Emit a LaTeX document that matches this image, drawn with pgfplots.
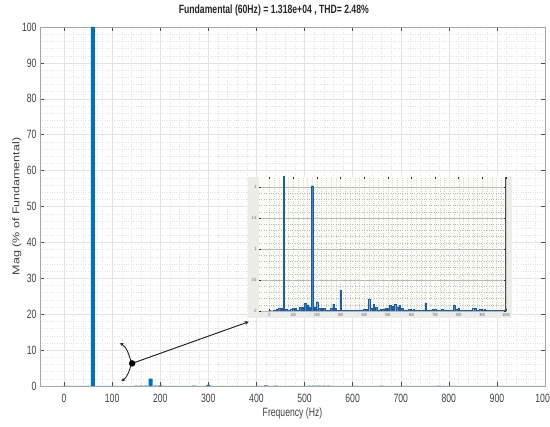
\documentclass[border=0pt]{standalone}
\usepackage{pgfplots}
\pgfplotsset{compat=1.18}
\usepackage{pgfplotstable}
\usepackage{graphicx}
\usepackage{fontspec}
\setmainfont{Liberation Sans}[FakeStretch=0.72]
\newfontfamily\ylabfont{Liberation Sans}
\usetikzlibrary{arrows.meta}
\definecolor{mblue}{HTML}{0072BD}
\definecolor{iblue}{HTML}{3A88D2}
\definecolor{iedge}{HTML}{1F5C9A}
\definecolor{tickgray}{HTML}{404040}
\definecolor{insetbg}{HTML}{FBFCF5}
\definecolor{insetmargin}{HTML}{ECECE8}

\pgfplotstableread{
f v
0 0.016
10 0.005
20 0.02
30 0.03
40 0.04
50 0.04
60 100
70 0.035
80 0.01
90 0.03
100 0.04
110 0.045
120 0.02
130 0.06
140 0.06
150 0.12
160 0.10
170 0.07
180 2.02
190 0.07
200 0.15
210 0.04
220 0.04
230 0.045
240 0.01
250 0.01
260 0.04
270 0.11
280 0.04
290 0.01
300 0.34
310 0.01
320 0.02
330 0.02
340 0.01
350 0.01
360 0.02
370 0.02
380 0.02
390 0.02
400 0.03
410 0.03
420 0.19
430 0.05
440 0.11
450 0.06
460 0.02
470 0.03
480 0.03
490 0.04
500 0.04
510 0.10
520 0.08
530 0.11
540 0.07
550 0.09
560 0.04
570 0.01
580 0.02
590 0.03
600 0.01
610 0.03
620 0.02
630 0.02
640 0.01
650 0.02
660 0.13
670 0.01
680 0.02
690 0.03
700 0.03
710 0.02
720 0.01
730 0.03
740 0.02
750 0.02
760 0.02
770 0.02
780 0.10
790 0.03
800 0.05
810 0.01
820 0.01
830 0.02
840 0.01
850 0.02
860 0.04
870 0.04
880 0.02
890 0.03
900 0.01
910 0.03
920 0.02
930 0.01
940 0.01
950 0.01
960 0.01
970 0.01
980 0.01
990 0.01
1000 0.04
}\spectrum

\begin{document}
\begin{tikzpicture}
\useasboundingbox (-40bp,-41bp) rectangle (510bp,386bp);
\begin{axis}[
  name=main,
  at={(0,0)}, anchor=south west,
  scale only axis, width=505bp, height=359bp,
  xmin=-50, xmax=1000, ymin=0, ymax=100,
  xtick={0,100,...,1000}, ytick={0,10,...,100},
  minor x tick num=4, minor y tick num=4,
  grid=both,
  major grid style={gray!22, line width=0.4bp},
  minor grid style={gray!22, dotted, line width=0.35bp},
  axis line style={draw=gray!70},
  tick style={gray!60!black, line width=0.4bp},
  major tick length=4bp, minor tick length=0pt,
  /pgf/number format/assume math mode=true,
  /pgf/number format/1000 sep={},
  tick label style={font=\fontsize{12bp}{14bp}\selectfont, text=tickgray},
  xticklabel style={yshift=-5bp},
  title={Fundamental (60Hz) = 1.318e+04 , THD= 2.48\%},
  title style={at={(axis description cs:0.463,1.02)}, anchor=base, font=\fontsize{12bp}{14bp}\selectfont\bfseries, text=black!85},
  xlabel={Frequency (Hz)},
  xlabel style={at={(axis description cs:0.5,-0.084)}, anchor=base, font=\fontsize{12bp}{14bp}\selectfont, text=tickgray},
  ylabel={\scalebox{1}[0.78]{\ylabfont\fontsize{12.5bp}{14bp}\selectfont Mag (\% of Fundamental)}},
  ylabel style={at={(axis description cs:-0.046,0.5)}, anchor=center, text=tickgray},
]
\addplot[ybar, bar width=8, bar shift=0pt, fill=mblue, draw=none] table[x=f, y=v] {\spectrum};
% annotation
\draw[black!85, line width=1bp, -{Stealth[length=4bp,width=4bp]}] (axis cs:141.6,6.3) -- (axis cs:384,17.9);
\draw[gray!30!black, line width=0.9bp, {Stealth[length=3.5bp,width=3.5bp]}-{Stealth[length=3.5bp,width=3.5bp]}]
  (axis cs:116,11.9) .. controls (axis cs:130,11) and (axis cs:136,8.5) .. (axis cs:140,6.3)
  .. controls (axis cs:136,4) and (axis cs:130,2.2) .. (axis cs:119,1.4);
\fill[black] (axis cs:141.6,6.3) circle (3.2bp);
\end{axis}

\fill[insetmargin] (208bp,68bp) rectangle (472bp,209bp);

\begin{axis}[
  at={(219bp,75bp)}, anchor=south west,
  scale only axis, width=247bp, height=134bp,
  xmin=-45, xmax=1000, ymin=0, ymax=2.16,
  axis background/.style={fill=insetbg},
  xtick={0,100,...,1000}, ytick={0,0.5,1,1.5,2},
  minor x tick num=4, minor y tick num=4,
  xmajorgrids, ymajorgrids, xminorgrids, yminorgrids,
  x grid style={gray!35, dotted, line width=0.35bp},
  y grid style={gray!55, line width=0.45bp},
  minor grid style={gray!25, dotted, line width=0.3bp},
  axis line style={draw=none},
  tick style={black!80, line width=0.5bp},
  major tick length=2bp, minor tick length=0pt,
  /pgf/number format/assume math mode=true,
  /pgf/number format/1000 sep={},
  tick label style={font=\fontsize{4.5bp}{5bp}\selectfont, text=gray!70!black},
  xticklabel style={yshift=1.5bp},
  yticklabel style={xshift=1bp},
  clip=true,
]
\addplot[ybar, bar width=6.5, bar shift=0pt, fill=iblue, draw=iedge, line width=0.25bp] table[x=f, y=v] {\spectrum};
\draw[gray!60!black, line width=1.3bp] (rel axis cs:1,0) -- (rel axis cs:1,1);
\end{axis}
\end{tikzpicture}
\end{document}
